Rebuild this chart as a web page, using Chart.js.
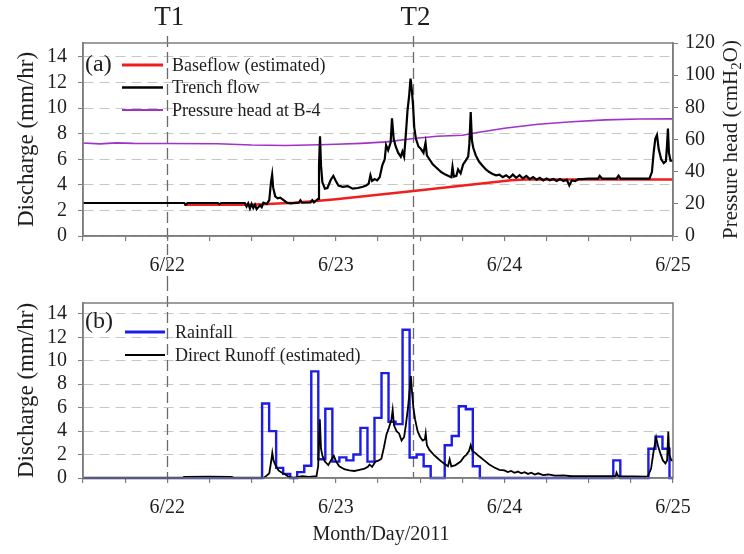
<!DOCTYPE html>
<html>
<head>
<meta charset="utf-8">
<script src="https://cdn.jsdelivr.net/npm/chart.js@4.4.0/dist/chart.umd.min.js"></script>
<style>
  html, body { margin: 0; padding: 0; background: #fff; }
  #wrap { position: relative; width: 744px; height: 554px; }
  canvas { position: absolute; left: 0; }
  #topChart { top: 0; }
  #bottomChart { top: 280px; }
</style>
</head>
<body>
<div id="wrap">
  <canvas id="topChart" width="744" height="280"></canvas>
  <canvas id="bottomChart" width="744" height="274"></canvas>
</div>
<script>
// --- datos (dia de junio 2011 como decimal) ---
const dayTicks = [22, 23, 24, 25];
const dayLabels = ['6/22', '6/23', '6/24', '6/25'];
const markerDays = [22, 23.46];
const markerLabels = ['T1', 'T2'];

// (a) caudal de zanja (mm/hr)
const trenchDays = [21.5, 21.7, 21.9, 22.1, 22.11, 22.12, 22.3, 22.31, 22.32, 22.46, 22.47, 22.48, 22.49, 22.5, 22.51, 22.52, 22.53, 22.55, 22.56, 22.57, 22.59,
  22.605, 22.615, 22.622, 22.628, 22.64, 22.655, 22.67, 22.69, 22.71, 22.73, 22.78, 22.79, 22.8, 22.85, 22.86, 22.87, 22.895, 22.9, 22.906, 22.912, 22.92,
  22.935, 22.95, 22.97, 22.985, 23.0, 23.015, 23.04, 23.07, 23.1, 23.13, 23.16, 23.18, 23.195, 23.205, 23.215, 23.23, 23.245, 23.26, 23.275, 23.29, 23.298,
  23.31, 23.325, 23.333, 23.343, 23.355, 23.37, 23.385, 23.395, 23.405, 23.415, 23.425, 23.435, 23.443, 23.45, 23.458, 23.465, 23.475, 23.49, 23.505, 23.52,
  23.532, 23.54, 23.555, 23.575, 23.6, 23.625, 23.65, 23.675, 23.685, 23.692, 23.7, 23.715, 23.725, 23.74, 23.755, 23.77, 23.785, 23.792, 23.8, 23.807,
  23.815, 23.83, 23.85, 23.87, 23.89, 23.91, 23.93, 23.95, 23.97, 23.99, 24.01, 24.03, 24.05, 24.07, 24.09, 24.11, 24.13, 24.15, 24.17, 24.19, 24.21, 24.23,
  24.25, 24.27, 24.29, 24.31, 24.33, 24.35, 24.37, 24.385, 24.4, 24.42, 24.44, 24.46, 24.5, 24.53, 24.555, 24.565, 24.58, 24.665, 24.677, 24.69, 24.86,
  24.875, 24.885, 24.895, 24.905, 24.915, 24.93, 24.945, 24.958, 24.964, 24.97, 24.976, 24.985, 25.0];
const trenchFlow = [2.58, 2.58, 2.58, 2.58, 2.45, 2.58, 2.58, 2.47, 2.58, 2.58, 2.3, 2.55, 2.15, 2.5, 2.2, 2.45, 2.1, 2.4, 2.25, 2.6, 2.5,
  2.8, 4.2, 4.8, 3.8, 3.1, 2.95, 3.0, 2.8, 2.6, 2.55, 2.6, 2.8, 2.6, 2.62, 2.8, 2.62, 2.9, 5.5, 7.8, 5.5, 4.2,
  3.7, 3.75, 4.4, 4.7, 4.3, 3.95, 3.85, 3.9, 3.7, 3.75, 3.85, 3.95, 4.1, 4.75, 4.3, 4.45, 4.35, 4.6, 5.5, 6.0, 7.1,
  6.7, 7.3, 9.2, 7.6, 7.0, 6.5, 6.2, 6.6, 6.2, 7.9, 9.8, 11.0, 12.3, 11.5, 10.2, 8.5, 7.6, 7.0, 6.8, 6.5,
  7.3, 6.3, 6.0, 5.6, 5.3, 5.0, 4.8, 4.65, 4.6, 5.4, 4.65, 4.7, 5.2, 4.9, 5.6, 5.9, 6.2, 7.2, 9.7, 7.5,
  6.9, 6.3, 5.8, 5.5, 5.2, 5.0, 4.85, 4.75, 4.8, 4.6, 4.75, 4.55, 4.8, 4.55, 4.75, 4.5, 4.7, 4.45, 4.6, 4.4, 4.55, 4.35,
  4.5, 4.35, 4.45, 4.3, 4.45, 4.3, 4.4, 3.95, 4.35, 4.3, 4.45, 4.45, 4.48, 4.48, 4.48, 4.7, 4.48, 4.48, 4.72, 4.48, 4.48,
  5.0, 6.5, 7.6, 7.9, 6.8, 6.0, 5.7, 5.85, 7.0, 8.4, 6.5, 5.9, 5.9];

// (a) caudal base estimado (mm/hr)
const baseDays = [22.1, 22.5, 22.75, 22.9, 23.0, 23.46, 24.04, 24.12, 25.0];
const baseFlow = [2.45, 2.45, 2.6, 2.75, 2.88, 3.52, 4.35, 4.42, 4.42];

// (a) carga de presion en B-4 (cmH2O)
const headDays = [21.5, 21.6, 21.7, 21.8, 22.0, 22.3, 22.5, 22.7, 22.9, 23.0, 23.15, 23.3, 23.45, 23.6, 23.75, 23.85, 24.0, 24.2, 24.4, 24.6, 24.8, 25.0];
const pressureHead = [57.8, 57.3, 57.9, 57.6, 57.5, 57.4, 56.6, 56.3, 56.7, 57.0, 57.6, 58.5, 60.5, 62.0, 62.6, 64.5, 67.0, 69.5, 71.0, 72.2, 72.7, 72.8];

// (b) lluvia horaria (mm/hr), cada valor vale desde su hora hasta la siguiente
const rainDays = [21.5, 22.5625, 22.6042, 22.6458, 22.6875, 22.7292, 22.7708, 22.8125, 22.8542, 22.8958, 22.9375, 22.9792, 23.0208, 23.0625,
  23.1042, 23.1458, 23.1875, 23.2292, 23.2708, 23.3125, 23.3542, 23.3958, 23.4375, 23.4792, 23.5208, 23.5625, 23.6458, 23.6875, 23.7292,
  23.7708, 23.8125, 23.8542, 24.6458, 24.6875, 24.8542, 24.8958, 24.9375, 24.9792, 25.0];
const rainfall = [0, 6.35, 4.0, 0.86, 0.35, 0, 0.5, 1.05, 9.1, 1.6, 5.9, 1.4, 1.76, 1.5,
  2.0, 4.28, 1.4, 5.13, 8.95, 4.8, 4.6, 12.65, 1.75, 2.0, 1.0, 0, 2.8, 3.58, 6.12,
  5.86, 1.0, 0, 1.5, 0, 2.49, 3.53, 2.49, 0, 0];

// (b) escorrentia directa estimada (mm/hr)
const runoffDays = [21.5, 22.09, 22.1, 22.25, 22.38, 22.4, 22.57, 22.59, 22.605, 22.615, 22.623, 22.63, 22.645, 22.66, 22.68, 22.7, 22.72, 22.75,
  22.78, 22.8, 22.84, 22.885, 22.895, 22.905, 22.912, 22.92, 22.935, 22.955, 22.975, 22.988, 23.0, 23.02, 23.05, 23.08, 23.11, 23.14, 23.17,
  23.19, 23.2, 23.215, 23.235, 23.255, 23.27, 23.285, 23.3, 23.315, 23.33, 23.337, 23.345, 23.36, 23.375, 23.39, 23.405, 23.415, 23.428,
  23.438, 23.445, 23.452, 23.46, 23.47, 23.485, 23.5, 23.515, 23.528, 23.533, 23.54, 23.555, 23.58, 23.61, 23.64, 23.665, 23.675, 23.685,
  23.71, 23.74, 23.76, 23.775, 23.79, 23.8, 23.81, 23.83, 23.85, 23.88, 23.91, 23.94, 23.97, 24.0, 24.02, 24.04, 24.06, 24.08, 24.1, 24.12,
  24.14, 24.16, 24.18, 24.2, 24.23, 24.26, 24.3, 24.35, 24.4, 24.5, 24.55, 24.66, 24.665, 24.675, 24.85, 24.87, 24.885, 24.9, 24.91, 24.925,
  24.94, 24.955, 24.965, 24.972, 24.978, 24.99, 25.0];
const directRunoff = [0, 0, 0.1, 0.12, 0.1, 0, 0, 0.2, 0.4, 1.3, 2.15, 1.5, 1.0, 0.65, 0.45, 0.3, 0.1, 0.0,
  0.1, 0.15, 0.1, 0.15, 1.0, 5.0, 2.5, 1.9, 1.4, 1.1, 1.6, 1.9, 1.45, 1.0, 0.75, 0.65, 0.6, 0.7, 0.8,
  0.95, 1.15, 0.95, 1.4, 1.5, 1.65, 2.6, 3.7, 4.3, 5.0, 5.8, 4.5, 4.0, 3.8, 3.2, 3.5, 4.5, 6.0,
  7.5, 8.7, 7.3, 6.0, 5.0, 4.0, 3.5, 3.2, 3.3, 3.8, 2.8, 2.4, 2.0, 1.6, 1.25, 1.0, 1.6, 1.0,
  1.1, 1.4, 1.8, 2.0, 2.3, 2.8, 2.3, 2.1, 1.85, 1.5, 1.15, 0.9, 0.7, 0.65, 0.5, 0.6, 0.45, 0.55, 0.4, 0.5,
  0.35, 0.45, 0.3, 0.4, 0.25, 0.3, 0.2, 0.22, 0.15, 0.15, 0.15, 0.15, 0.45, 0.15, 0.12, 0.8, 2.3, 3.45, 2.8, 2.1,
  1.5, 1.25, 1.5, 3.97, 2.0, 1.5, 1.5];

// --- estilos ---
const SERIF = "'Liberation Serif', 'Times New Roman', serif";
const TEXT = '#1e1e1e';
const AXIS = '#7d7d7d';
const AXIS_LEFT = 83;
const AXIS_RIGHT = 71;

Chart.defaults.font.family = SERIF;
Chart.defaults.color = TEXT;

const pts = (xs, ys) => xs.map((x, i) => ({ x: x, y: ys[i] }));

function ejeX(alto, padLabel) {
  return {
    type: 'linear', min: 21.5, max: 25,
    afterFit: s => { s.height = alto; },
    border: { color: AXIS, width: 1.5 },
    grid: { drawOnChartArea: false, drawTicks: true, tickLength: 5, tickColor: AXIS, lineWidth: 1.2 },
    ticks: {
      stepSize: 0.25, autoSkip: false, maxRotation: 0, padding: padLabel,
      font: { size: 20 }, color: TEXT,
      callback: v => { const i = dayTicks.indexOf(v); return i >= 0 ? dayLabels[i] : ''; }
    }
  };
}

function ejeDescarga(maximo) {
  return {
    position: 'left', min: 0, max: maximo,
    afterFit: s => { s.width = AXIS_LEFT; },
    border: { color: AXIS, width: 1.5, dash: [10, 6] },
    grid: { color: '#c6c6c6', lineWidth: 1, tickLength: 5, tickColor: AXIS, tickBorderDash: [] },
    ticks: { stepSize: 2, autoSkip: false, includeBounds: false, padding: 11, font: { size: 20 }, color: TEXT }
  };
}

// plugin con marco, leyenda, lineas T y titulos
const decor = {
  id: 'decor',
  beforeDatasetsDraw(chart, args, o) {
    const { ctx, chartArea: a, scales: { x } } = chart;
    ctx.save();
    ctx.strokeStyle = '#6a6a6a';
    ctx.lineWidth = 1.3;
    ctx.setLineDash([11, 5]);
    markerDays.forEach(d => {
      const px = Math.round(x.getPixelForValue(d)) + 0.5;
      ctx.beginPath();
      ctx.moveTo(px, o.lineTop);
      ctx.lineTo(px, o.lineBottom === 'area' ? a.bottom : chart.height);
      ctx.stroke();
    });
    ctx.restore();
  },
  afterDraw(chart, args, o) {
    const { ctx, chartArea: a, scales: { x } } = chart;
    ctx.save();
    // marco
    ctx.strokeStyle = AXIS;
    ctx.lineWidth = 1.5;
    ctx.strokeRect(a.left, a.top, a.right - a.left, a.bottom - a.top);

    // etiqueta del panel
    ctx.fillStyle = TEXT;
    ctx.textBaseline = 'middle';
    ctx.textAlign = 'left';
    ctx.font = '24px ' + SERIF;
    ctx.fillText(o.tag, a.left + 2, a.top + o.tagY);

    // leyenda
    ctx.font = '18px ' + SERIF;
    o.legend.forEach((idx, k) => {
      const ds = chart.data.datasets[idx];
      const y = a.top + o.rowY + k * o.rowDy;
      ctx.strokeStyle = ds.borderColor;
      ctx.lineWidth = ds.borderWidth + 0.4;
      ctx.beginPath();
      ctx.moveTo(a.left + o.lineX1, y);
      ctx.lineTo(a.left + o.lineX2, y);
      ctx.stroke();
      ctx.fillText(ds.label, a.left + o.textX, y + 1);
    });

    // titulo eje izquierdo
    const cy = (a.top + a.bottom) / 2;
    ctx.save();
    ctx.translate(27, cy);
    ctx.rotate(-Math.PI / 2);
    ctx.textAlign = 'center';
    ctx.font = '23px ' + SERIF;
    ctx.fillText('Discharge (mm/hr)', 0, 0);
    ctx.restore();

    if (o.rightTitle) {
      // Pressure head (cmH2O) con subindice
      const big = '21px ' + SERIF, small = '15px ' + SERIF;
      const p1 = 'Pressure head (cmH', p2 = '2', p3 = 'O)';
      ctx.font = big; const w1 = ctx.measureText(p1).width, w3 = ctx.measureText(p3).width;
      ctx.font = small; const w2 = ctx.measureText(p2).width;
      const total = w1 + w2 + w3;
      ctx.save();
      ctx.translate(731, cy);
      ctx.rotate(-Math.PI / 2);
      ctx.textAlign = 'left';
      let sx = -total / 2;
      ctx.font = big; ctx.fillText(p1, sx, 0); sx += w1;
      ctx.font = small; ctx.fillText(p2, sx, 6); sx += w2;
      ctx.font = big; ctx.fillText(p3, sx, 0);
      ctx.restore();
    }

    if (o.markers) {
      ctx.textAlign = 'center';
      ctx.font = '27px ' + SERIF;
      markerDays.forEach((d, i) => ctx.fillText(markerLabels[i], x.getPixelForValue(d) + 2, 18));
    }

    if (o.xTitle) {
      ctx.textAlign = 'center';
      ctx.font = '20px ' + SERIF;
      ctx.fillText(o.xTitle, (a.left + a.right) / 2 + 3, a.bottom + 57);
    }
    ctx.restore();
  }
};

// --- panel (a) ---
new Chart(document.getElementById('topChart'), {
  type: 'line',
  data: {
    datasets: [
      { label: 'Trench flow', data: pts(trenchDays, trenchFlow), borderColor: '#000000', borderWidth: 2.2, yAxisID: 'y' },
      { label: 'Baseflow (estimated)', data: pts(baseDays, baseFlow), borderColor: '#f01e1e', borderWidth: 2.5, yAxisID: 'y' },
      { label: 'Pressure head at B-4', data: pts(headDays, pressureHead), borderColor: '#a032c8', borderWidth: 1.6, yAxisID: 'yP' }
    ]
  },
  options: {
    responsive: false, animation: false,
    elements: { point: { radius: 0 }, line: { tension: 0, fill: false } },
    datasets: { line: { clip: 6 } },
    layout: { padding: { top: 43, left: 0, right: 0, bottom: 0 } },
    scales: {
      x: ejeX(44, 13),
      y: ejeDescarga(15.09),
      yP: {
        position: 'right', min: 0, max: 120,
        afterFit: s => { s.width = AXIS_RIGHT; },
        border: { color: AXIS, width: 1.5 },
        grid: { drawOnChartArea: false, tickLength: 5, tickColor: AXIS },
        ticks: { stepSize: 20, autoSkip: false, padding: 7, font: { size: 20 }, color: TEXT }
      }
    },
    plugins: {
      legend: { display: false },
      tooltip: { enabled: false },
      decor: {
        tag: '(a)', tagY: 22, legend: [1, 0, 2], rowY: 22, rowDy: 22.5,
        lineX1: 39, lineX2: 80, textX: 89,
        lineTop: 36, lineBottom: 'canvas', rightTitle: true, markers: true
      }
    }
  },
  plugins: [decor]
});

// --- panel (b) ---
new Chart(document.getElementById('bottomChart'), {
  type: 'line',
  data: {
    datasets: [
      { label: 'Direct Runoff (estimated)', data: pts(runoffDays, directRunoff), borderColor: '#000000', borderWidth: 1.8 },
      { label: 'Rainfall', data: pts(rainDays, rainfall), borderColor: '#1c1ce6', borderWidth: 2.4, stepped: true }
    ]
  },
  options: {
    responsive: false, animation: false,
    elements: { point: { radius: 0 }, line: { tension: 0, fill: false } },
    datasets: { line: { clip: 6 } },
    layout: { padding: { top: 6, left: 0, right: AXIS_RIGHT, bottom: 0 } },
    scales: {
      x: ejeX(76, 13),
      y: ejeDescarga(14.93)
    },
    plugins: {
      legend: { display: false },
      tooltip: { enabled: false },
      decor: {
        tag: '(b)', tagY: 19, legend: [1, 0], rowY: 29, rowDy: 23,
        lineX1: 42, lineX2: 82, textX: 92,
        lineTop: 0, lineBottom: 'area', rightTitle: false, markers: false,
        xTitle: 'Month/Day/2011'
      }
    }
  },
  plugins: [decor]
});
</script>
</body>
</html>
